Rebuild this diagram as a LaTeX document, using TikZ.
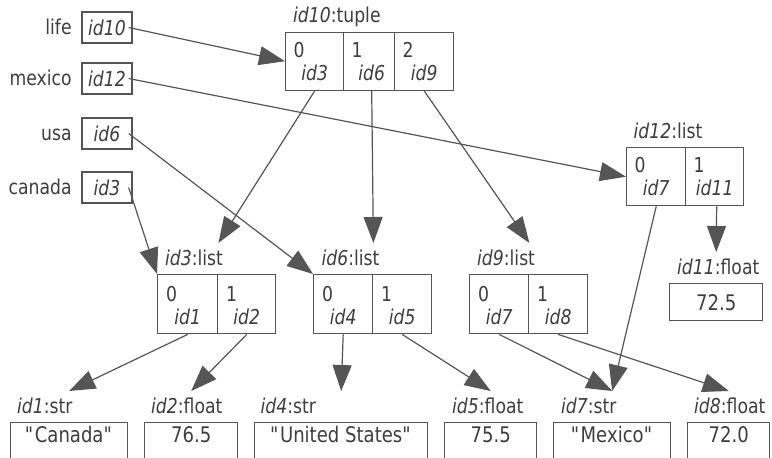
\documentclass[tikz,border=0pt]{standalone}
\usepackage{fontspec}
\setmainfont{DejaVu Sans}[FakeStretch=0.84]
\usetikzlibrary{arrows.meta}
\definecolor{ink}{RGB}{62,62,62}
\definecolor{edge}{RGB}{85,85,85}
\newcommand{\qq}[1]{\textquotedbl#1\textquotedbl}
\begin{document}
\begin{tikzpicture}[x=1pt,y=-1pt,
  lbl/.style={inner sep=0pt, text=ink, font=\fontsize{20.5}{24}\selectfont},
  val/.style={inner sep=0pt, text=ink, font=\fontsize{21.5}{25}\selectfont},
  cellbox/.style={draw=edge, line width=1.4pt, inner sep=0pt, anchor=north west},
  varbox/.style={draw=edge, line width=1.4pt, inner sep=0pt, minimum width=50pt, minimum height=31pt, text=ink, font=\fontsize{20.5}{24}\selectfont\itshape},
  idx/.style={lbl, anchor=base west},
  refl/.style={lbl, anchor=base, font=\fontsize{20.5}{24}\selectfont\itshape},
  ttl/.style={lbl, anchor=base west},
  ptr/.style={draw=edge, line width=1.2pt, -{Triangle[length=26pt,width=19pt]}},
]
\useasboundingbox (0,0) rectangle (772,458);
\fill[white] (0,0) rectangle (772,458);

% variables
\node[varbox] (vlife) at (107,27.5) {id10};
\node[varbox] (vmex) at (107,78.5) {id12};
\node[varbox] (vusa) at (107,133.5) {id6};
\node[varbox] (vcan) at (107,187.5) {id3};
\node[lbl, anchor=base east] (nlife) at ([xshift=-9.5pt,yshift=-6.5pt]vlife.west) {life};
\node[lbl, anchor=base east] (nmex) at ([xshift=-9.5pt,yshift=-6.5pt]vmex.west) {mexico};
\node[lbl, anchor=base east] (nusa) at ([xshift=-9.5pt,yshift=-6.5pt]vusa.west) {usa};
\node[lbl, anchor=base east] (ncan) at ([xshift=-9.5pt,yshift=-6.5pt]vcan.west) {canada};

% tuple id10
\node[cellbox, minimum width=58pt, minimum height=58pt] (t0) at (285,31.5) {};
\node[cellbox, minimum width=51pt, minimum height=58pt] (t1) at (343,31.5) {};
\node[cellbox, minimum width=59pt, minimum height=58pt] (t2) at (394,31.5) {};
\node[ttl] (tt) at ([xshift=8pt,yshift=9pt]t0.north west) {\textit{id10}:tuple};
\node[idx] (i0) at ([xshift=8.5pt,yshift=-25.5pt]t0.north west) {0};
\node[idx] (i1) at ([xshift=8.5pt,yshift=-25.5pt]t1.north west) {1};
\node[idx] (i2) at ([xshift=8.5pt,yshift=-25.5pt]t2.north west) {2};
\node[refl] (r0) at ([yshift=-49pt]t0.north) {id3};
\node[refl] (r1) at ([xshift=2.5pt,yshift=-49pt]t1.north) {id6};
\node[refl] (r2) at ([yshift=-49pt]t2.north) {id9};

% list id12
\node[cellbox, minimum width=59pt, minimum height=58pt] (l12a) at (626,147) {};
\node[cellbox, minimum width=58pt, minimum height=58pt] (l12b) at (685,147) {};
\node[ttl] (t12) at ([xshift=7.5pt,yshift=9pt]l12a.north west) {\textit{id12}:list};
\node[idx] (i12a) at ([xshift=8.5pt,yshift=-25.5pt]l12a.north west) {0};
\node[idx] (i12b) at ([xshift=8.5pt,yshift=-25.5pt]l12b.north west) {1};
\node[refl] (r12a) at ([yshift=-48pt]l12a.north) {id7};
\node[refl] (r12b) at ([yshift=-48pt]l12b.north) {id11};

% list id3
\node[cellbox, minimum width=60pt, minimum height=59pt] (l3a) at (157,274) {};
\node[cellbox, minimum width=58pt, minimum height=59pt] (l3b) at (217,274) {};
\node[ttl] (t3) at ([xshift=8pt,yshift=9pt]l3a.north west) {\textit{id3}:list};
\node[idx] (i3a) at ([xshift=9pt,yshift=-27pt]l3a.north west) {0};
\node[idx] (i3b) at ([xshift=9pt,yshift=-27pt]l3b.north west) {1};
\node[refl] (r3a) at ([yshift=-50pt]l3a.north) {id1};
\node[refl] (r3b) at ([yshift=-50pt]l3b.north) {id2};

% list id6
\node[cellbox, minimum width=59pt, minimum height=59pt] (l6a) at (313,274) {};
\node[cellbox, minimum width=59pt, minimum height=59pt] (l6b) at (372,274) {};
\node[ttl] (t6) at ([xshift=8.5pt,yshift=9pt]l6a.north west) {\textit{id6}:list};
\node[idx] (i6a) at ([xshift=9pt,yshift=-27pt]l6a.north west) {0};
\node[idx] (i6b) at ([xshift=9pt,yshift=-27pt]l6b.north west) {1};
\node[refl] (r6a) at ([yshift=-50pt]l6a.north) {id4};
\node[refl] (r6b) at ([yshift=-50pt]l6b.north) {id5};

% list id9
\node[cellbox, minimum width=59pt, minimum height=59pt] (l9a) at (469,274) {};
\node[cellbox, minimum width=59pt, minimum height=59pt] (l9b) at (528,274) {};
\node[ttl] (t9) at ([xshift=8pt,yshift=9pt]l9a.north west) {\textit{id9}:list};
\node[idx] (i9a) at ([xshift=9pt,yshift=-27pt]l9a.north west) {0};
\node[idx] (i9b) at ([xshift=9pt,yshift=-27pt]l9b.north west) {1};
\node[refl] (r9a) at ([yshift=-50pt]l9a.north) {id7};
\node[refl] (r9b) at ([yshift=-50pt]l9b.north) {id8};

% float id11
\node[cellbox, minimum width=93pt, minimum height=37pt, val] (b11) at (669,283) {72.5};
\node[ttl] (t11) at ([xshift=8pt,yshift=8.5pt]b11.north west) {\textit{id11}:float};

% bottom objects
\node[cellbox, minimum width=117pt, minimum height=38pt] (b1) at (10,422) {};
\node[cellbox, minimum width=93pt, minimum height=38pt] (b2) at (144,422) {};
\node[cellbox, minimum width=173pt, minimum height=38pt] (b4) at (254,422) {};
\node[cellbox, minimum width=92pt, minimum height=38pt] (b5) at (444,422) {};
\node[cellbox, minimum width=117pt, minimum height=38pt] (b7) at (553,422) {};
\node[cellbox, minimum width=82pt, minimum height=38pt] (b8) at (687,422) {};
\node[val] (v1) at ([yshift=-12.5pt]b1.north) {\qq{Canada}};
\node[val] (v2) at ([yshift=-12.5pt]b2.north) {76.5};
\node[val] (v4) at ([yshift=-12.5pt]b4.north) {\qq{United States}};
\node[val] (v5) at ([yshift=-12.5pt]b5.north) {75.5};
\node[val] (v7) at ([yshift=-12.5pt]b7.north) {\qq{Mexico}};
\node[val] (v8) at ([yshift=-12.5pt]b8.north) {72.0};
\node[ttl] (tb1) at ([xshift=7pt,yshift=9pt]b1.north west) {\textit{id1}:str};
\node[ttl] (tb2) at ([xshift=7pt,yshift=9pt]b2.north west) {\textit{id2}:float};
\node[ttl] (tb4) at ([xshift=6.5pt,yshift=9pt]b4.north west) {\textit{id4}:str};
\node[ttl] (tb5) at ([xshift=8pt,yshift=9pt]b5.north west) {\textit{id5}:float};
\node[ttl] (tb7) at ([xshift=8pt,yshift=9pt]b7.north west) {\textit{id7}:str};
\node[ttl] (tb8) at ([xshift=7pt,yshift=9pt]b8.north west) {\textit{id8}:float};

% connectors
\draw[ptr] ([xshift=-4pt]vlife.east) -- (t0.west);
\draw[ptr] ([xshift=-4pt]vmex.east) -- (l12a.west);
\draw[ptr] ([xshift=-4pt]vusa.east) -- (l6a.north west);
\draw[ptr] ([xshift=-4pt]vcan.east) -- (l3a.north west);
\draw[ptr] (r0 |- t0.south) -- ([yshift=31pt]l3a.north east);
\draw[ptr] (r1 |- t1.south) -- ([yshift=31pt]l6a.north east);
\draw[ptr] (r2 |- t2.south) -- ([yshift=31pt]l9a.north east);
\draw[ptr] ([xshift=2pt]r12b.south |- l12b.south) -- ([yshift=31pt]b11.north);
\draw[ptr] (r12a |- l12a.south) -- ([yshift=31pt]b7.north);
\draw[ptr] (r3a |- l3a.south) -- ([yshift=31pt]b1.north);
\draw[ptr] (r3b |- l3b.south) -- ([yshift=31pt]b2.north);
\draw[ptr] (r6a |- l6a.south) -- ([yshift=31pt]b4.north);
\draw[ptr] (r6b |- l6b.south) -- ([yshift=31pt]b5.north);
\draw[ptr] (r9a |- l9a.south) -- ([yshift=31pt]b7.north);
\draw[ptr] (r9b |- l9b.south) -- ([yshift=31pt]b8.north);
\end{tikzpicture}
\end{document}
